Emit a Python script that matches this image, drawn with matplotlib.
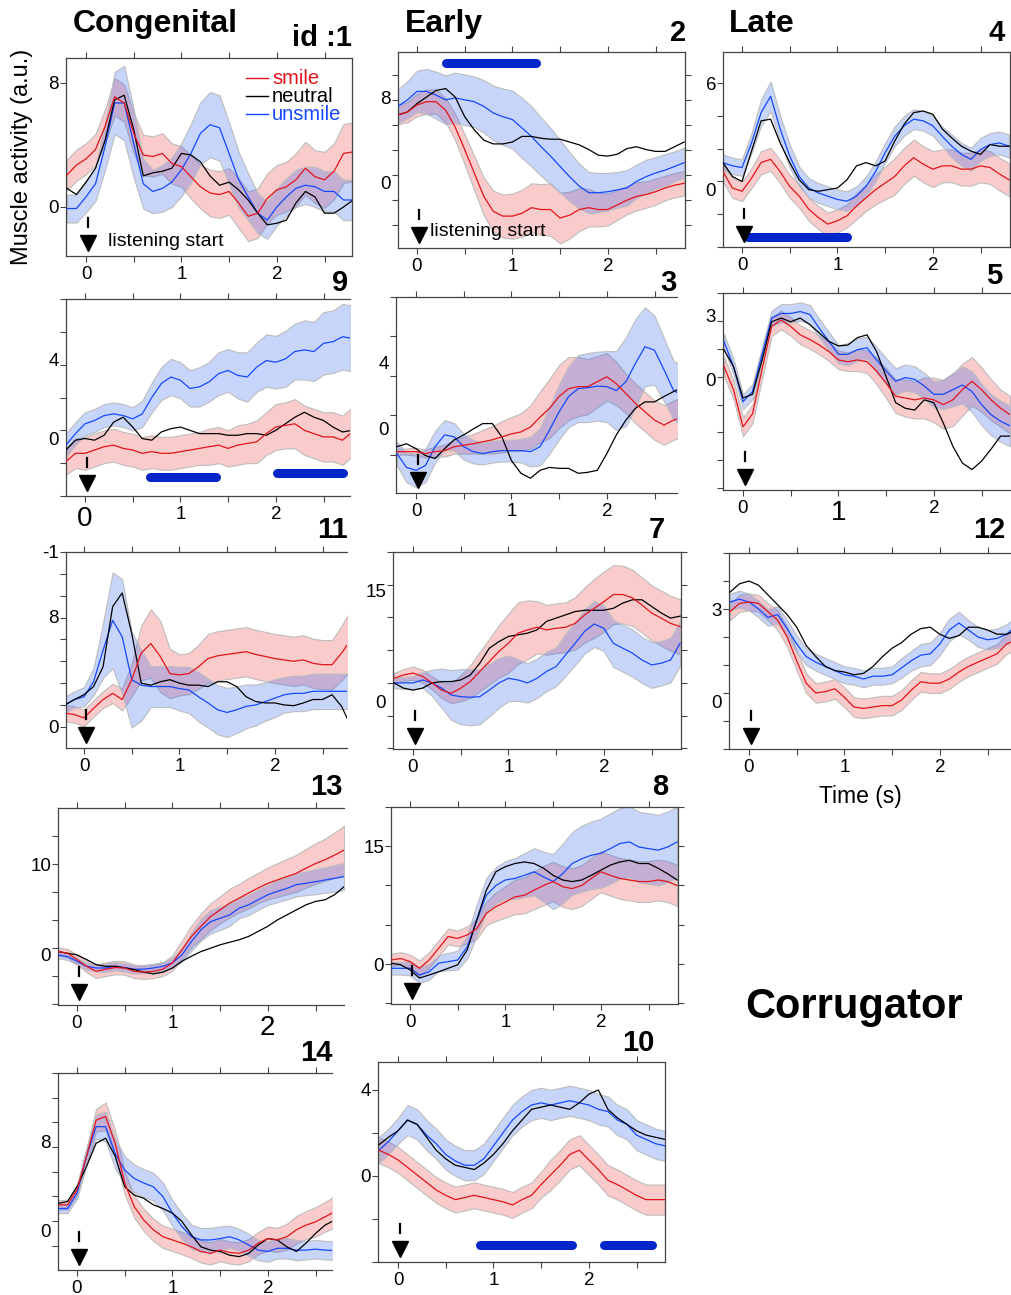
import numpy as np
import matplotlib.pyplot as plt
from matplotlib.lines import Line2D
from matplotlib.ticker import FixedLocator

plt.rcParams['font.family'] = ['Liberation Sans', 'DejaVu Sans']

W, H = 1011, 1295
t = np.round(np.arange(-0.2, 2.81, 0.1), 1)   # sample times (s)

# ---- data: mean traces and band half-widths, one set per participant id ----
p1_smile = [2.06,2.7,3.1,3.7,5.2,7.1,6.7,4.75,3.35,3.25,3.45,2.8,2.6,1.95,1.3,0.9,0.8,1.0,0.25,-0.6,-0.4,0.55,1.1,1.3,1.75,2.5,1.95,1.75,2.3,3.45,3.55]
p1_neutral = [1.2,0.8,1.6,2.5,4.3,6.9,7.2,5.0,2.0,2.2,2.3,2.5,3.45,3.35,2.9,2.0,1.4,1.6,1.1,0.45,-0.4,-1.15,-1.05,-0.85,0.25,1.0,0.65,-0.4,-0.4,0.0,0.45]
p1_unsmile = [-0.1,-0.1,0.65,1.5,3.9,6.7,6.7,4.1,1.5,1.0,1.2,1.6,2.4,3.45,4.75,5.3,5.1,3.45,1.75,0.65,-0.4,-0.85,0.0,0.65,1.2,1.4,1.3,1.0,1.0,0.45,0.45]
p1_smile_err = [1.0,1.0,1.0,1.0,1.1,1.2,1.2,1.3,1.3,1.3,1.3,1.3,1.3,1.4,1.4,1.5,1.5,1.5,1.6,1.6,1.6,1.6,1.6,1.6,1.7,1.7,1.7,1.8,1.8,1.9,1.9]
p1_unsmile_err = [0.9,0.9,1.0,1.1,1.5,2.0,2.4,2.2,1.6,1.4,1.5,1.6,1.7,1.9,2.0,2.1,2.1,2.0,1.8,1.5,1.3,1.2,1.2,1.2,1.2,1.2,1.3,1.3,1.3,1.3,1.3]

p2_smile = [6.4,6.7,7.45,7.8,7.8,6.9,5.1,2.7,0.2,-2.3,-3.9,-4.4,-4.4,-4.1,-3.5,-3.7,-3.7,-4.6,-4.3,-3.7,-3.5,-3.7,-3.7,-3.2,-2.7,-2.3,-2.1,-1.8,-1.4,-1.1,-0.9]
p2_neutral = [6.4,6.7,7.6,8.3,9.0,9.2,8.3,6.2,4.8,3.7,3.3,3.3,3.5,4.1,4.1,3.9,3.8,3.8,3.5,3.2,2.7,2.1,2.0,2.2,2.8,3.0,2.7,2.5,2.5,3.0,3.5]
p2_unsmile = [7.3,8.0,8.9,8.9,8.5,8.0,8.2,8.0,7.8,7.3,6.6,6.2,5.9,5.0,4.1,3.0,2.0,0.9,-0.2,-1.2,-1.9,-1.9,-1.8,-1.6,-1.4,-0.7,-0.2,0.2,0.5,0.9,1.3]
p2_smile_err = [1.0,1.1,1.2,1.3,1.3,1.3,1.4,1.6,1.8,2.0,2.2,2.3,2.4,2.5,2.6,2.7,2.8,2.7,2.5,2.3,2.0,1.8,1.7,1.6,1.5,1.5,1.4,1.4,1.3,1.3,1.3]
p2_unsmile_err = [1.8,2.0,2.2,2.4,2.5,2.6,2.7,2.7,2.7,2.8,2.9,3.0,3.1,3.2,3.2,3.1,3.0,2.8,2.6,2.4,2.2,2.1,2.0,1.9,1.9,1.8,1.8,1.7,1.7,1.6,1.6]

p4_smile = [0.6,-0.4,-0.6,0.2,1.15,1.35,0.6,-0.3,-0.9,-1.7,-2.2,-2.6,-2.4,-2.1,-1.5,-1.0,-0.5,-0.1,0.3,0.95,1.45,1.05,0.75,0.95,0.95,0.75,0.75,0.95,0.85,0.45,0.1]
p4_neutral = [1.15,0.3,0.0,1.85,3.7,3.8,2.35,1.15,0.1,-0.5,-0.6,-0.5,-0.4,0.1,0.95,1.15,0.95,1.25,2.45,3.5,4.2,4.3,4.1,3.2,2.65,2.15,1.85,1.65,2.25,2.15,2.15]
p4_unsmile = [1.15,0.95,0.85,2.35,4.2,5.2,3.2,1.55,0.3,-0.4,-0.7,-0.9,-1.1,-1.2,-0.9,-0.3,0.6,1.75,2.75,3.4,3.8,3.7,3.4,2.75,2.15,1.65,1.35,1.95,2.25,2.35,2.15]
p4_smile_err = [0.6,0.6,0.6,0.6,0.7,0.7,0.7,0.7,0.7,0.7,0.7,0.7,0.7,0.7,0.8,0.8,0.9,1.0,1.1,1.1,1.1,1.1,1.1,1.0,1.0,1.0,1.0,1.0,1.0,1.0,1.0]
p4_unsmile_err = [0.5,0.5,0.5,0.6,0.8,0.9,0.8,0.7,0.6,0.6,0.6,0.6,0.6,0.6,0.6,0.6,0.6,0.6,0.6,0.6,0.6,0.6,0.6,0.6,0.7,0.7,0.7,0.7,0.7,0.7,0.7]

p9_smile = [-1.9,-1.4,-1.4,-1.2,-1.0,-0.9,-1.1,-1.2,-1.4,-1.3,-1.4,-1.4,-1.3,-1.2,-1.1,-1.0,-0.9,-1.1,-0.9,-0.8,-0.7,-0.2,0.2,0.3,0.4,0.0,-0.2,-0.4,-0.4,-0.6,-0.1]
p9_neutral = [-1.2,-0.6,-0.5,-0.6,-0.3,0.5,0.8,0.2,-0.5,-0.6,-0.1,0.1,0.2,0.0,-0.2,-0.2,-0.2,-0.3,-0.3,-0.2,-0.2,-0.3,0.0,0.4,0.8,1.1,0.8,0.6,0.2,-0.1,0.0]
p9_unsmile = [-0.9,-0.2,0.4,0.6,0.9,1.0,0.9,0.7,1.0,2.0,2.85,3.25,3.05,2.55,2.65,2.95,3.45,3.65,3.35,3.25,3.85,4.25,4.15,4.35,4.8,4.9,4.8,5.3,5.4,5.7,5.6]
p9_smile_err = [0.8,0.9,1.0,1.0,1.0,1.0,1.0,1.0,1.0,1.0,1.0,1.0,1.0,1.0,1.0,1.1,1.1,1.1,1.2,1.2,1.3,1.3,1.4,1.4,1.5,1.5,1.5,1.5,1.5,1.5,1.5]
p9_unsmile_err = [0.7,0.7,0.7,0.7,0.7,0.7,0.7,0.7,0.8,0.9,1.0,1.1,1.1,1.1,1.2,1.2,1.3,1.3,1.4,1.5,1.5,1.6,1.6,1.7,1.7,1.8,1.8,1.9,1.9,2.0,2.0]

p3_smile = [-3.7,-3.7,-3.7,-3.9,-3.7,-3.6,-3.2,-3.05,-2.9,-2.7,-2.5,-2.2,-1.9,-1.7,-1.2,-0.2,0.7,1.9,2.7,2.9,2.9,3.4,3.9,3.2,2.2,1.2,0.35,-0.5,-1.0,-0.5,-0.2]
p3_neutral = [-3.2,-2.9,-3.4,-4.1,-4.4,-3.4,-2.5,-2.0,-1.4,-0.85,-0.85,-2.2,-4.6,-5.9,-6.4,-5.6,-5.3,-5.4,-5.4,-5.9,-5.8,-5.6,-3.9,-2.0,-0.5,0.7,1.35,1.35,1.9,2.4,2.9]
p3_unsmile = [-3.9,-5.3,-5.6,-5.1,-3.2,-2.0,-2.2,-3.2,-3.7,-3.9,-3.7,-3.6,-3.6,-3.6,-3.7,-3.2,-1.5,0.35,1.9,2.7,2.8,2.95,2.9,2.5,3.4,5.25,6.95,6.6,4.6,2.5,2.0]
p3_smile_err = [0.3,0.3,0.4,0.4,0.5,0.6,0.7,0.85,1.0,1.2,1.4,1.6,1.7,1.9,2.2,2.6,3.0,3.2,3.2,3.0,2.8,2.6,2.4,2.2,2.0,2.0,2.0,2.0,2.0,2.0,2.0]
p3_unsmile_err = [1.2,1.5,1.7,1.7,1.6,1.5,1.4,1.3,1.2,1.1,1.1,1.1,1.1,1.2,1.5,1.9,2.4,2.8,3.1,3.4,3.5,3.5,3.6,4.0,4.5,4.5,4.0,3.5,3.2,3.0,3.0]

p5_smile = [0.55,-0.7,-2.7,-2.0,0.4,2.7,3.05,2.7,2.25,2.0,1.7,1.35,0.9,0.8,0.9,0.8,0.3,-0.35,-1.05,-1.15,-1.25,-1.15,-1.25,-1.5,-1.25,-0.7,-0.25,-0.7,-1.25,-1.7,-2.05]
p5_neutral = [1.45,0.55,-1.15,-0.95,0.9,2.95,3.15,2.95,3.15,2.8,2.35,1.9,1.65,1.7,2.1,2.25,1.35,0.0,-1.4,-1.7,-1.8,-1.25,-1.4,-2.5,-3.75,-4.65,-5.0,-4.55,-3.9,-3.2,-3.2]
p5_unsmile = [1.9,0.55,-1.35,-0.8,1.2,3.15,3.4,3.4,3.5,3.35,2.6,1.9,1.2,1.2,1.45,1.55,0.9,0.3,-0.25,-0.05,-0.15,-0.5,-0.95,-0.95,-0.7,-0.45,-0.8,-1.5,-2.05,-2.4,-2.65]
p5_smile_err = [0.5,0.5,0.5,0.5,0.5,0.5,0.5,0.5,0.5,0.5,0.5,0.5,0.5,0.5,0.6,0.6,0.7,0.8,0.9,1.0,1.0,1.1,1.2,1.3,1.4,1.4,1.3,1.2,1.1,1.0,1.0]
p5_unsmile_err = [0.4,0.4,0.4,0.4,0.4,0.4,0.5,0.5,0.5,0.5,0.5,0.5,0.5,0.6,0.6,0.6,0.7,0.7,0.7,0.7,0.7,0.7,0.7,0.8,0.9,1.0,1.1,1.1,1.1,1.1,1.1]

p11_smile = [1.0,0.9,0.65,1.35,2.0,2.45,2.0,3.45,5.4,6.1,5.15,3.9,3.8,3.9,4.4,5.0,5.2,5.3,5.4,5.5,5.3,5.15,5.0,4.9,4.8,4.9,4.65,4.55,4.55,5.4,6.4]
p11_neutral = [1.6,2.0,2.35,2.95,4.4,8.8,9.8,6.85,3.2,3.05,3.3,3.45,3.2,3.05,3.05,2.95,3.3,3.3,2.95,2.2,1.85,1.75,1.75,1.6,1.55,1.75,2.0,2.0,2.35,1.5,0.0]
p11_unsmile = [1.6,2.0,2.2,3.3,5.6,7.8,6.6,3.45,3.05,2.95,2.95,2.95,2.8,2.7,2.2,1.75,1.25,1.05,1.25,1.5,1.6,1.85,2.1,2.35,2.45,2.45,2.6,2.6,2.6,2.6,2.6]
p11_smile_err = [0.6,0.6,0.6,0.6,0.6,0.7,0.8,1.2,2.0,2.5,2.6,1.8,1.5,1.5,1.6,1.8,1.8,1.8,1.8,1.8,1.8,1.8,1.8,1.8,1.8,1.8,1.8,1.8,1.8,2.0,2.2]
p11_unsmile_err = [0.6,0.6,0.7,1.0,2.0,3.5,4.2,3.5,2.6,1.5,1.5,1.5,1.6,1.7,1.8,1.8,1.8,1.8,1.7,1.6,1.5,1.4,1.4,1.3,1.3,1.3,1.3,1.3,1.3,1.3,1.3]

p7_smile = [0.7,1.2,1.5,1.0,0.0,-1.1,-1.6,-0.8,0.2,1.75,3.25,4.8,6.05,7.6,8.1,8.5,8.1,8.35,8.5,9.1,10.4,11.4,12.4,13.5,13.5,13.0,11.9,10.7,9.9,9.1,8.6]
p7_neutral = [0.0,-0.8,-1.1,-0.8,0.0,0.2,0.2,0.45,1.2,3.0,5.3,6.3,7.1,7.35,7.6,8.1,9.4,9.9,10.4,10.9,11.1,11.1,11.1,11.4,12.2,12.7,12.7,11.7,10.7,9.9,10.2]
p7_unsmile = [0.0,0.0,0.0,0.45,0.0,-0.8,-1.85,-2.1,-2.2,-2.1,-1.1,0.0,0.7,0.45,0.0,0.7,1.75,2.5,4.3,6.05,7.9,9.0,8.35,6.05,5.3,4.55,3.5,2.75,3.0,3.5,6.05]
p7_smile_err = [0.8,0.9,1.0,1.0,1.0,1.2,1.5,2.0,2.5,3.0,3.5,4.0,4.5,4.7,4.5,4.0,3.8,3.8,3.8,4.0,4.2,4.5,4.6,4.5,4.4,4.3,4.2,4.2,4.2,4.2,4.2]
p7_unsmile_err = [0.8,0.9,1.0,1.2,2.0,3.0,3.8,4.2,4.3,4.2,4.0,3.8,3.5,3.2,3.0,3.0,3.0,3.0,3.2,3.3,3.4,3.5,3.5,3.6,3.6,3.6,3.5,3.5,3.4,3.4,3.4]

p12_smile = [2.9,3.2,3.25,3.2,2.9,2.6,2.0,1.15,0.35,0.0,0.05,0.15,-0.15,-0.5,-0.55,-0.5,-0.45,-0.45,-0.25,0.1,0.4,0.35,0.35,0.5,0.75,0.95,1.1,1.25,1.4,1.75,1.9]
p12_neutral = [3.6,3.9,4.0,3.85,3.5,3.15,2.8,2.35,1.7,1.3,0.95,0.8,0.75,0.65,0.7,0.95,1.3,1.6,1.8,2.1,2.3,2.35,2.1,1.95,2.05,2.35,2.35,2.25,2.1,2.1,2.25]
p12_unsmile = [3.25,3.35,3.25,3.0,2.7,2.8,2.3,1.75,1.3,1.1,0.95,0.8,0.65,0.6,0.5,0.6,0.6,0.65,0.9,1.15,1.35,1.4,1.75,2.25,2.5,2.25,2.0,1.9,1.95,2.1,2.4]
p12_smile_err = [0.3,0.3,0.3,0.3,0.3,0.35,0.35,0.35,0.35,0.35,0.35,0.35,0.35,0.35,0.35,0.35,0.35,0.35,0.35,0.35,0.35,0.35,0.35,0.35,0.35,0.35,0.35,0.35,0.35,0.35,0.35]
p12_unsmile_err = [0.3,0.3,0.3,0.3,0.3,0.3,0.3,0.3,0.3,0.3,0.3,0.3,0.3,0.3,0.3,0.3,0.3,0.3,0.35,0.35,0.4,0.4,0.4,0.4,0.4,0.35,0.35,0.35,0.35,0.35,0.35]

p13_smile = [-0.45,-0.65,-1.4,-2.2,-2.8,-2.55,-2.35,-2.4,-2.8,-2.9,-2.8,-2.55,-1.8,-0.25,1.35,2.55,3.7,4.5,5.3,5.9,6.5,7.1,7.65,8.05,8.45,8.85,9.45,10.0,10.45,11.0,11.6]
p13_neutral = [-0.45,-0.65,-0.85,-1.4,-2.0,-2.2,-2.2,-2.4,-2.6,-2.9,-3.1,-2.9,-2.4,-1.6,-1.0,-0.45,-0.05,0.35,0.65,0.95,1.35,1.95,2.55,3.3,3.9,4.5,5.1,5.5,5.7,6.3,7.25]
p13_unsmile = [-0.85,-1.05,-1.6,-2.2,-2.4,-2.4,-2.2,-2.35,-2.55,-2.55,-2.4,-2.2,-1.8,-0.85,0.75,2.15,3.1,3.5,3.9,4.7,5.1,5.7,6.3,6.7,7.05,7.5,7.65,7.85,8.05,8.25,8.45]
p13_smile_err = [0.5,0.5,0.6,0.7,0.8,0.8,0.8,0.8,0.8,0.8,0.8,0.8,0.9,1.1,1.3,1.5,1.6,1.6,1.7,1.7,1.8,1.8,1.9,2.0,2.1,2.2,2.3,2.4,2.5,2.7,2.9]
p13_unsmile_err = [0.4,0.4,0.4,0.4,0.4,0.5,0.5,0.5,0.5,0.5,0.5,0.5,0.6,0.8,1.1,1.3,1.4,1.4,1.3,1.2,1.2,1.2,1.2,1.3,1.3,1.4,1.4,1.5,1.5,1.6,1.6]

p8_smile = [0.5,0.7,0.3,-0.55,0.5,2.0,3.5,3.25,3.7,4.5,6.45,7.3,7.9,8.55,8.75,9.4,10.0,10.5,9.85,9.6,10.0,10.9,11.75,11.3,10.9,10.7,10.5,10.5,10.7,10.5,10.0]
p8_neutral = [0.1,-0.1,-0.75,-1.8,-1.4,-1.0,-0.55,-0.1,1.8,5.6,9.4,11.75,12.4,12.8,13.0,12.8,12.2,11.3,10.7,10.5,10.7,11.3,11.95,12.6,13.0,13.2,12.8,12.8,12.2,11.5,10.7]
p8_unsmile = [-0.55,-0.55,-0.55,-1.4,-1.0,0.1,0.3,0.5,2.2,5.6,8.75,10.0,10.7,10.9,11.3,11.75,11.1,10.5,11.5,12.8,13.4,13.85,14.1,14.7,15.35,15.55,14.9,14.7,14.5,14.9,15.55]
p8_smile_err = [0.8,0.8,0.9,1.0,1.0,1.0,1.0,1.0,1.1,1.3,1.5,1.8,2.0,2.2,2.3,2.4,2.5,2.5,2.6,2.6,2.6,2.6,2.6,2.6,2.6,2.6,2.6,2.6,2.6,2.6,2.6]
p8_unsmile_err = [0.8,0.8,0.9,1.0,1.0,1.0,1.1,1.2,1.5,2.0,2.2,2.3,2.4,2.6,2.8,3.0,3.2,3.5,3.8,4.0,4.2,4.3,4.4,4.5,4.5,4.5,4.5,4.5,4.5,4.5,4.5]

p14_smile = [1.75,1.75,3.35,7.0,10.9,11.3,8.4,4.1,1.55,0.1,-0.95,-1.7,-2.05,-2.4,-2.8,-3.3,-3.5,-3.15,-3.4,-3.5,-3.15,-2.4,-1.9,-2.05,-1.7,-0.95,-0.45,-0.1,0.45,1.0,1.55]
p14_neutral = [1.9,2.1,3.7,5.9,8.4,8.95,7.0,3.7,2.8,2.45,1.75,1.35,0.85,-0.05,-1.5,-2.8,-3.15,-3.3,-3.7,-3.85,-3.5,-2.6,-1.9,-2.05,-2.8,-3.3,-2.4,-1.35,-0.45,0.1,0.45]
p14_unsmile = [1.35,1.35,3.0,7.0,10.2,10.2,7.3,5.5,4.6,4.1,3.7,2.65,0.85,-0.6,-1.7,-2.05,-2.05,-1.9,-1.7,-2.05,-2.6,-3.15,-3.3,-2.95,-2.95,-3.15,-3.15,-3.05,-3.15,-3.2,-3.2]
p14_smile_err = [0.5,0.5,0.6,0.9,1.2,1.5,1.4,1.2,1.2,1.2,1.2,1.2,1.2,1.2,1.2,1.2,1.2,1.2,1.2,1.2,1.2,1.2,1.3,1.3,1.4,1.5,1.5,1.6,1.6,1.7,1.7]
p14_unsmile_err = [0.5,0.5,0.6,0.9,1.3,1.6,1.6,1.5,1.5,1.5,1.5,1.5,1.4,1.4,1.3,1.3,1.3,1.3,1.2,1.2,1.2,1.1,1.1,1.1,1.1,1.1,1.0,1.0,1.0,1.0,1.0]

p10_smile = [1.2,1.0,0.75,0.4,0.05,-0.3,-0.65,-0.9,-1.1,-1.0,-0.9,-1.0,-1.1,-1.2,-1.35,-1.1,-0.9,-0.4,0.05,0.5,1.0,1.2,0.75,0.3,-0.2,-0.4,-0.65,-0.9,-1.1,-1.1,-1.1]
p10_neutral = [1.45,1.8,2.1,2.6,2.4,1.8,1.2,0.8,0.5,0.4,0.3,0.6,1.0,1.5,2.1,2.6,3.1,3.2,3.3,3.2,3.1,3.4,3.8,4.0,3.1,2.7,2.4,2.1,1.9,1.8,1.7]
p10_unsmile = [1.2,1.6,2.1,2.6,2.4,1.9,1.5,1.0,0.7,0.5,0.5,0.8,1.4,2.0,2.6,3.0,3.3,3.4,3.3,3.4,3.5,3.4,3.3,3.1,3.0,2.6,2.4,1.9,1.7,1.5,1.4]
p10_smile_err = [0.6,0.6,0.6,0.6,0.6,0.6,0.6,0.6,0.6,0.6,0.6,0.6,0.6,0.6,0.6,0.6,0.6,0.6,0.7,0.7,0.7,0.7,0.7,0.7,0.7,0.7,0.7,0.7,0.7,0.7,0.7]
p10_unsmile_err = [0.6,0.6,0.6,0.7,0.7,0.7,0.7,0.7,0.7,0.7,0.7,0.7,0.7,0.7,0.7,0.7,0.7,0.7,0.7,0.7,0.7,0.7,0.7,0.7,0.7,0.7,0.7,0.7,0.7,0.7,0.7]

# significance bars (start s, end s, level)
p2_bars = [(0.30, 1.25, 11.9)]
p4_bars = [(0.06, 1.10, -3.4)]
p9_bars = [(0.68, 1.37, -2.87), (2.01, 2.70, -2.6)]
p10_bars = [(0.86, 1.82, -3.2), (2.16, 2.66, -3.2)]

# legend entries
legend_labels = ['smile', 'neutral', 'unsmile']

# ---- layout (pixel boxes) ----
PX_PER_S = 95.4
panels = [
    dict(id='id :1', d=(p1_smile, p1_neutral, p1_unsmile, p1_smile_err, p1_unsmile_err), box=(66, 58, 352, 256), x0=86,
         ylim=(-3.16, 9.6), ystep=8, ylab=([8, 0], ['8', '0']), rspine=True, rticks=False, num=(352, 38), bars=[], listen=(108, 241)),
    dict(id='2', d=(p2_smile, p2_neutral, p2_unsmile, p2_smile_err, p2_unsmile_err), box=(398, 52, 685, 248), x0=417,
         ylim=(-7.8, 13.1), ystep=8 / 3, ylab=([8.2, -0.85], ['8', '0']), rspine=True, rticks=True, num=(686, 33), bars=p2_bars, listen=(430, 232)),
    dict(id='4', d=(p4_smile, p4_neutral, p4_unsmile, p4_smile_err, p4_unsmile_err), box=(723, 52, 1010, 247), x0=742,
         ylim=(-4.0, 7.9), ystep=2, ylab=([6, -0.5], ['6', '0']), rspine=True, rticks=True, num=(1005, 33), bars=p4_bars),
    dict(id='9', d=(p9_smile, p9_neutral, p9_unsmile, p9_smile_err, p9_unsmile_err), box=(66, 299, 350, 496), x0=85,
         ylim=(-4.0, 8.0), ystep=2, ylab=([4.3, -0.5], ['4', '0']), num=(348, 283), bars=p9_bars, big=(0, 20)),
    dict(id='3', d=(p3_smile, p3_neutral, p3_unsmile, p3_smile_err, p3_unsmile_err), box=(396, 297, 677, 493), x0=416,
         ylim=(-7.9, 12.0), ystep=4, ylab=([5.4, -1.4], ['4', '0']), num=(677, 283)),
    dict(id='5', d=(p5_smile, p5_neutral, p5_unsmile, p5_smile_err, p5_unsmile_err), box=(723, 293, 1010, 490), x0=743,
         ylim=(-6.1, 4.5), ystep=1.5, ylab=([3.3, -0.15], ['3', '0']), num=(1002, 276), big=(1, 20)),
    dict(id='11', d=(p11_smile, p11_neutral, p11_unsmile, p11_smile_err, p11_unsmile_err), box=(66, 552, 347, 748), x0=84,
         ylim=(-1.55, 12.8), ystep=1.6, ylab=([12.8, 8.05, 0], ['-1', '8', '0']), num=(348, 530)),
    dict(id='7', d=(p7_smile, p7_neutral, p7_unsmile, p7_smile_err, p7_unsmile_err), box=(393, 552, 681, 749), x0=413,
         ylim=(-10.1, 20.0), ystep=5, ylab=([14.1, -2.9], ['15', '0']), rspine=True, rticks=True, num=(665, 530)),
    dict(id='12', d=(p12_smile, p12_neutral, p12_unsmile, p12_smile_err, p12_unsmile_err), box=(729, 553, 1011, 749), x0=749,
         ylim=(-2.0, 5.0), ystep=1, ylab=([3.0, -0.3], ['3', '0']), num=(1005, 530)),
    dict(id='13', d=(p13_smile, p13_neutral, p13_unsmile, p13_smile_err, p13_unsmile_err), box=(58, 808, 344, 1005), x0=77,
         ylim=(-6.8, 16.6), ystep=10 / 3, ylab=([9.85, -0.8], ['10', '0']), num=(342, 787), big=(2, 20)),
    dict(id='8', d=(p8_smile, p8_neutral, p8_unsmile, p8_smile_err, p8_unsmile_err), box=(391, 807, 678, 1004), x0=410,
         ylim=(-5.1, 20.0), ystep=5, ylab=([15, -0.1], ['15', '0']), rspine=True, rticks=True, num=(668, 787)),
    dict(id='14', d=(p14_smile, p14_neutral, p14_unsmile, p14_smile_err, p14_unsmile_err), box=(58, 1073, 332, 1270), x0=77,
         ylim=(-5.3, 16.0), ystep=8 / 3, ylab=([8.56, -1.0], ['8', '0']), num=(333, 1053)),
    dict(id='10', d=(p10_smile, p10_neutral, p10_unsmile, p10_smile_err, p10_unsmile_err), box=(378, 1062, 665, 1262), x0=398,
         ylim=(-4.0, 5.3), ystep=2, ylab=([4, 0], ['4', '0']), rspine=True, rticks=False, num=(655, 1043), bars=p10_bars),
]

RED, BLACK, BLUE = '#e3141b', '#000000', '#1448ff'
RED_FILL, BLUE_FILL = (0.93, 0.2, 0.2, 0.25), (0.15, 0.35, 0.95, 0.25)
SPINE = '#444444'
TICK_FS = 13.5

fig = plt.figure(figsize=(W / 100, H / 100), dpi=100)


def fx(x):
    return x / W


def fy(y):
    return 1 - y / H


for p in panels:
    l, tp, r, b = p['box']
    ax = fig.add_axes([fx(l), fy(b), fx(r - l), (b - tp) / H])
    ax.set_xlim((l - p['x0']) / PX_PER_S, (r - p['x0']) / PX_PER_S)
    ax.set_ylim(*p['ylim'])
    smile, neutral, unsmile, es, eu = [np.array(v) for v in p['d']]

    ax.fill_between(t, smile - es, smile + es, facecolor=RED_FILL, edgecolor='#bdbdbd', linewidth=0.8, zorder=1)
    ax.fill_between(t, unsmile - eu, unsmile + eu, facecolor=BLUE_FILL, edgecolor='#bdbdbd', linewidth=0.8, zorder=2)
    ax.plot(t, unsmile, color=BLUE, lw=0.9, zorder=3)
    ax.plot(t, neutral, color=BLACK, lw=0.9, zorder=4)
    ax.plot(t, smile, color=RED, lw=0.9, zorder=5)

    for s0, s1, lev in p.get('bars', []):
        ax.plot([s0, s1], [lev, lev], color='#0025c8', lw=6.5, solid_capstyle='round', zorder=6)

    # listening-start marker
    hpx = b - tp
    tr = ax.get_xaxis_transform()
    ax.plot([0.02], [13 / hpx], marker='v', ms=12, color='black', transform=tr, clip_on=False, zorder=7)
    ax.plot([0.02, 0.02], [29 / hpx, 38 / hpx], color='black', lw=1.6, transform=tr, clip_on=False, zorder=7)

    # spines and ticks
    for side in ['left', 'bottom', 'top', 'right']:
        ax.spines[side].set_color(SPINE)
        ax.spines[side].set_linewidth(0.9)
    ax.spines['right'].set_visible(p.get('rspine', False))

    ax.xaxis.set_major_locator(FixedLocator([0, 1, 2]))
    ax.xaxis.set_minor_locator(FixedLocator([0.5, 1.5, 2.5]))
    ax.set_xticklabels(['0', '1', '2'])
    ax.tick_params(axis='x', which='both', direction='out', length=4.5, width=0.8, color=SPINE,
                   top=True, bottom=True, labeltop=False, labelsize=TICK_FS, pad=3)

    step = p['ystep']
    k0 = int(np.ceil(p['ylim'][0] / step - 1e-6))
    k1 = int(np.floor(p['ylim'][1] / step + 1e-6))
    ax.yaxis.set_minor_locator(FixedLocator([k * step for k in range(k0, k1 + 1)]))
    ax.yaxis.set_major_locator(FixedLocator(p['ylab'][0]))
    ax.set_yticklabels(p['ylab'][1])
    ax.yaxis.remove_overlapping_locs = False
    ax.tick_params(axis='y', which='major', length=0, labelsize=TICK_FS, pad=5)
    ax.tick_params(axis='y', which='minor', direction='out', length=4.5, width=0.8, color=SPINE,
                   left=True, right=p.get('rticks', False))

    if 'big' in p:
        i, fs = p['big']
        ax.get_xticklabels()[i].set_fontsize(fs)

    fig.text(fx(p['num'][0]), fy(p['num'][1]), p['id'], ha='right', va='center',
             fontsize=21, fontweight='bold')

    if 'listen' in p:
        fig.text(fx(p['listen'][0]), fy(p['listen'][1]), 'listening start', ha='left', va='center', fontsize=14)

# group titles
fig.text(fx(73), fy(24), 'Congenital', ha='left', va='center', fontsize=23, fontweight='bold')
fig.text(fx(405), fy(24), 'Early', ha='left', va='center', fontsize=23, fontweight='bold')
fig.text(fx(729), fy(24), 'Late', ha='left', va='center', fontsize=23, fontweight='bold')
fig.text(fx(745), fy(1007), 'Corrugator', ha='left', va='center', fontsize=30, fontweight='bold')

fig.text(fx(22), fy(157), 'Muscle activity (a.u.)', rotation=90, ha='center', va='center', fontsize=17)
fig.text(fx(860), fy(796), 'Time (s)', ha='center', va='center', fontsize=16.5)

# legend in panel 1
for yy, lab, c in zip([78, 96, 114], legend_labels, [RED, BLACK, BLUE]):
    fig.add_artist(Line2D([fx(246), fx(268)], [fy(yy), fy(yy)], color=c, lw=1.0))
    fig.text(fx(272), fy(yy), lab, color=c, ha='left', va='center', fontsize=14.5)

fig.savefig('out.png', dpi=100)
